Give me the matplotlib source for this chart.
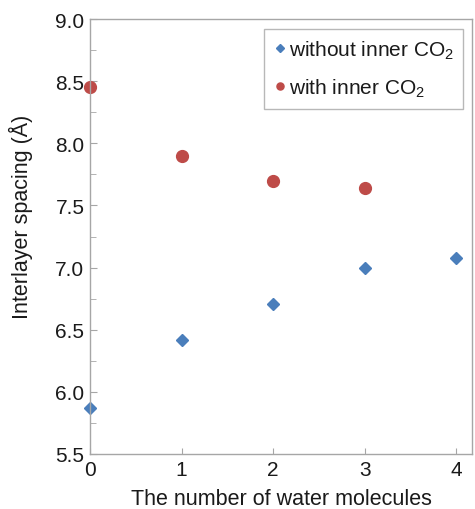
import matplotlib
matplotlib.use("Agg")
import matplotlib.pyplot as plt
from matplotlib.ticker import MultipleLocator, FormatStrFormatter

plt.rcParams['font.family'] = ['Liberation Sans', 'DejaVu Sans']
plt.rcParams['mathtext.fontset'] = 'custom'
plt.rcParams['mathtext.rm'] = 'Liberation Sans'

water_without = [0, 1, 2, 3, 4]
spacing_without = [5.87, 6.42, 6.71, 7.00, 7.08]
water_with = [0, 1, 2, 3]
spacing_with = [8.45, 7.90, 7.70, 7.64]

label_without = "without inner CO$_2$"
label_with = "with inner CO$_2$"
xlabel = "The number of water molecules"
ylabel = "Interlayer spacing (Å)"

fig = plt.figure(figsize=(4.75, 5.1), dpi=100)
ax = fig.add_axes([90/475, 1-455/510, (472-90)/475, (455-20)/510])

ax.plot(water_without, spacing_without, linestyle='none', marker='D', markersize=6.5,
        color='#4A7EBB', label=label_without, clip_on=False)
ax.plot(water_with, spacing_with, linestyle='none', marker='o', markersize=8.5,
        color='#BE4B48', label=label_with, clip_on=False)

ax.set_xlim(0, 4.17)
ax.set_ylim(5.5, 9.0)
ax.xaxis.set_major_locator(MultipleLocator(1))
ax.yaxis.set_major_locator(MultipleLocator(0.5))
ax.yaxis.set_minor_locator(MultipleLocator(0.25))
ax.yaxis.set_major_formatter(FormatStrFormatter('%.1f'))

for s in ax.spines.values():
    s.set_color('#A6A6A6')
    s.set_linewidth(1.0)
ax.tick_params(axis='both', which='both', direction='in', color='#A6A6A6',
               labelsize=15, labelcolor='#1a1a1a')
ax.tick_params(axis='y', which='major', length=5, pad=4)
ax.tick_params(axis='y', which='minor', length=4)
ax.tick_params(axis='x', which='major', length=4, pad=4)

ax.set_xlabel(xlabel, fontsize=15.5, color='#1a1a1a')
ax.set_ylabel(ylabel, fontsize=15.5, color='#1a1a1a')
ax.xaxis.set_label_coords(0.5, -0.078)
ax.xaxis.label.set_va('top')
ax.yaxis.set_label_coords(-0.148, 0.548)

leg = ax.legend(loc='upper right', bbox_to_anchor=(0.9765, 0.977), fontsize=15,
                frameon=True, fancybox=False, handletextpad=0.05, handlelength=0.7,
                borderpad=0.45, labelspacing=0.75, markerscale=0.6, borderaxespad=0)
leg.get_frame().set_edgecolor('#A6A6A6')
leg.get_frame().set_linewidth(1.0)
for t in leg.get_texts():
    t.set_color('#1a1a1a')

fig.savefig('out.png', dpi=100)
